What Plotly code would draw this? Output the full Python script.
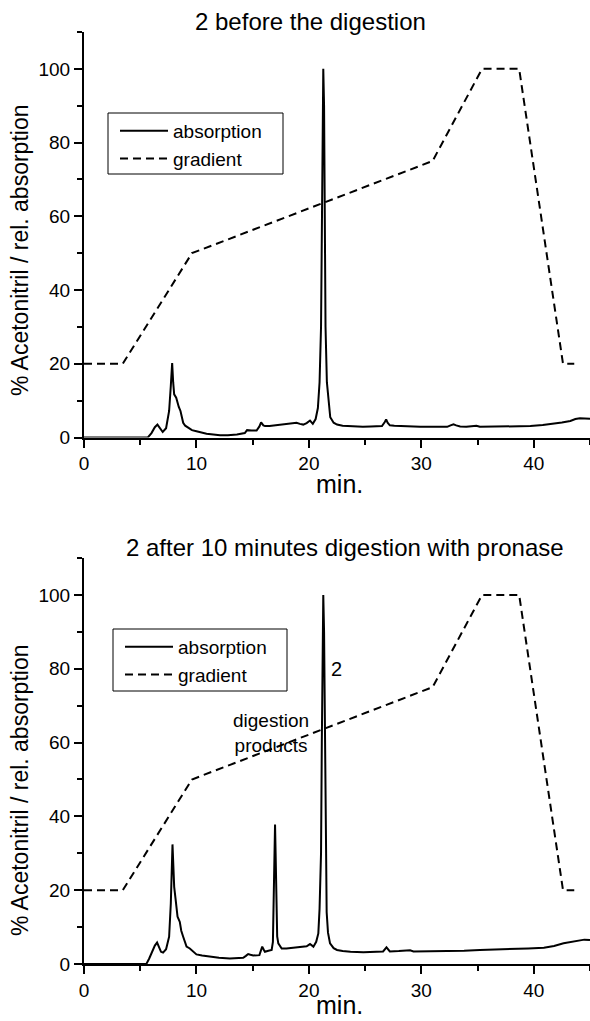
import plotly.graph_objects as go

# ---- HPLC gradient programme (% acetonitrile vs. time) ----
grad_t = [0, 3.45, 9.6, 31.0, 35.4, 38.7, 42.6, 43.6]
grad_v = [20, 20, 50, 75, 100, 100, 20, 20]

# ---- chromatogram of 2 before digestion (relative absorption) ----
before_t = [0, 5.5, 5.7, 6.0, 6.3, 6.53, 6.75, 7.0, 7.3, 7.57, 7.72, 7.84, 7.93,
            8.02, 8.2, 8.3, 8.43, 8.58, 8.7, 8.82, 9.0, 9.26, 9.6, 10.0, 10.5,
            10.9, 11.5, 12.1, 12.8, 13.6, 14.3, 14.5, 14.9, 15.35, 15.6, 15.75,
            15.95, 16.1, 16.5, 17.0, 17.5, 18.0, 18.5, 18.9, 19.2, 19.5, 19.8,
            20.1, 20.35, 20.6, 20.8, 20.95, 21.08, 21.15, 21.22, 21.28, 21.35,
            21.42, 21.48, 21.6, 21.75, 21.9, 22.2, 22.5, 23.0, 23.4, 24.0, 24.8,
            25.5, 26.5, 26.75, 26.87, 27.0, 27.2, 27.6, 28.2, 29.0, 29.9, 31.0,
            32.3, 32.6, 32.86, 33.1, 33.45, 34.0, 34.6, 34.9, 35.2, 36.4, 38.0,
            39.7, 40.8, 41.8, 42.5, 43.25, 43.7, 44.1, 44.5, 45.0]
before_v = [0, 0, 0.1, 1.2, 2.8, 3.5, 2.4, 1.5, 2.5, 7.2, 14, 20.2, 15,
            11.7, 10.8, 9.5, 8.3, 7.2, 5.5, 4.0, 3.2, 2.6, 2.0, 1.7, 1.3,
            1.0, 0.8, 0.6, 0.6, 0.8, 1.2, 2.0, 1.9, 1.9, 3.0, 4.1,
            3.3, 3.1, 3.1, 3.3, 3.3, 3.7, 3.8, 4.0, 3.7, 3.5, 3.9,
            4.6, 3.7, 5.0, 8.0, 15, 30, 60, 90, 100, 90,
            60, 30, 15, 9, 5.5, 4.0, 3.5, 3.2, 3.1, 3.0, 2.9,
            3.0, 3.1, 4.2, 4.9, 4.0, 3.3, 3.2, 3.1, 3.1, 2.9, 2.9,
            2.9, 3.3, 3.6, 3.3, 3.0, 2.9, 3.0, 3.2, 2.9, 2.9, 3.0,
            3.1, 3.4, 3.7, 4.1, 4.5, 5.0, 5.2, 5.1, 5.1]

# ---- chromatogram after 10 min pronase digestion ----
after_t = [0, 5.4, 5.56, 5.8, 6.0, 6.3, 6.5, 6.7, 6.85, 7.03, 7.3, 7.57, 7.72,
           7.87, 7.95, 8.02, 8.14, 8.32, 8.52, 8.65, 8.82, 9.0, 9.12, 9.41, 9.7,
           10.0, 10.5, 11.2, 12.0, 12.97, 13.5, 14.16, 14.4, 14.6, 14.8, 15.05,
           15.6, 15.75, 15.85, 16.0, 16.09, 16.4, 16.69, 16.8, 16.88, 16.95,
           16.99, 17.04, 17.1, 17.18, 17.28, 17.58, 18.0, 18.5, 19.0, 19.5,
           19.8, 20.1, 20.4, 20.65, 20.84, 20.95, 21.08, 21.15, 21.22, 21.28,
           21.35, 21.42, 21.48, 21.58, 21.7, 21.88, 22.2, 22.5, 23.0, 23.7,
           24.85, 26.0, 26.6, 26.9, 27.2, 28.0, 28.7, 29.0, 29.3, 30.5, 32.3,
           33.8, 35.2, 36.7, 38.2, 39.5, 40.9, 41.8, 42.65, 43.4, 44.1, 44.5,
           45.0]
after_v = [0, 0, 0.1, 1.5, 2.9, 5.0, 5.8, 4.5, 3.3, 3.1, 4.0, 7.4, 16.4,
           32.4, 26, 20.9, 17.7, 12.8, 11.4, 9.0, 7.4, 5.5, 4.7, 4.2, 3.3,
           2.6, 2.3, 2.0, 1.7, 1.5, 1.6, 1.7, 2.2, 2.7, 2.5, 2.3,
           2.4, 3.8, 4.7, 3.8, 3.3, 3.6, 3.8, 6.0, 16, 32,
           37.8, 30, 15, 7.5, 5.6, 4.2, 4.2, 4.4, 4.5, 4.7,
           4.8, 5.4, 4.7, 6.0, 8.3, 15, 30, 60, 90, 100,
           90, 60, 30, 14, 8.5, 5.6, 4.3, 3.8, 3.5, 3.3,
           3.2, 3.3, 3.4, 4.5, 3.4, 3.5, 3.5, 3.7, 3.4, 3.4, 3.5,
           3.6, 3.8, 3.9, 4.1, 4.2, 4.4, 4.9, 5.6, 6.0, 6.5, 6.6,
           6.5]

panel_titles = ["2 before the digestion",
                "2 after 10 minutes digestion with pronase"]
y_title = "% Acetonitril / rel. absorption"
x_title = "min."

FONT = "Liberation Sans, Arial, sans-serif"
DASH = "8px,5px"

fig = go.Figure()

panels = [("x", "y", "legend", before_t, before_v),
          ("x2", "y2", "legend2", after_t, after_v)]
for xa, ya, lg, t, v in panels:
    fig.add_trace(go.Scatter(x=t, y=v, mode="lines", name="absorption",
                             line=dict(color="black", width=2),
                             xaxis=xa, yaxis=ya, legend=lg))
    fig.add_trace(go.Scatter(x=grad_t, y=grad_v, mode="lines", name="gradient",
                             line=dict(color="black", width=2, dash=DASH),
                             xaxis=xa, yaxis=ya, legend=lg))

axis_common = dict(showline=True, linewidth=2, linecolor="black",
                   ticks="outside", ticklen=8, tickwidth=2, tickcolor="black",
                   showgrid=False, zeroline=False,
                   tickfont=dict(family=FONT, size=19, color="black"))

xaxis_style = dict(axis_common, range=[0, 45], tick0=0, dtick=10,
                   minor=dict(ticks="outside", ticklen=5, tickwidth=2,
                              tickcolor="black", dtick=5, tick0=0))
yaxis_style = dict(axis_common, range=[0, 110], tick0=0, dtick=20,
                   minor=dict(ticks="outside", ticklen=5, tickwidth=2,
                              tickcolor="black", dtick=10, tick0=0))

legend_style = dict(xanchor="left", yanchor="top", bgcolor="rgba(0,0,0,0)",
                    borderwidth=0, itemwidth=48,
                    font=dict(family=FONT, size=19, color="black"),
                    tracegroupgap=0)

PLOT_L, PLOT_W = 84, 506
PLOT_B, PLOT_H = 964, 932


def px_x(px):
    return (px - PLOT_L) / PLOT_W


def px_y(py):
    return (PLOT_B - py) / PLOT_H


fig.update_layout(
    width=590, height=1021, autosize=False,
    margin=dict(l=84, r=0, t=32, b=57),
    paper_bgcolor="white", plot_bgcolor="white",
    font=dict(family=FONT, color="black"),
    showlegend=True,
    xaxis=dict(xaxis_style, domain=[0, 1], anchor="y"),
    yaxis=dict(yaxis_style, domain=[px_y(437.5), 1.0], anchor="x"),
    xaxis2=dict(xaxis_style, domain=[0, 1], anchor="y2"),
    yaxis2=dict(yaxis_style, domain=[0.0, px_y(558)], anchor="x2"),
    legend=dict(legend_style, x=px_x(115), y=px_y(112)),
    legend2=dict(legend_style, x=px_x(120), y=px_y(628)),
)

# legend frames
shapes = [
    dict(type="rect", xref="paper", yref="paper",
         x0=px_x(108), x1=px_x(283), y0=px_y(174), y1=px_y(113),
         line=dict(color="black", width=1), fillcolor="white", layer="above"),
    dict(type="rect", xref="paper", yref="paper",
         x0=px_x(113), x1=px_x(287), y0=px_y(691), y1=px_y(629),
         line=dict(color="black", width=1), fillcolor="white", layer="above"),
]
fig.update_layout(shapes=shapes)

annotations = [
    # panel titles
    dict(text=panel_titles[0], xref="paper", yref="paper", x=px_x(310),
         y=px_y(22), xanchor="center", yanchor="middle", showarrow=False,
         font=dict(family=FONT, size=24)),
    dict(text=panel_titles[1], xref="paper", yref="paper", x=px_x(345),
         y=px_y(547), xanchor="center", yanchor="middle", showarrow=False,
         font=dict(family=FONT, size=24)),
    # axis captions
    dict(text=y_title, xref="paper", yref="paper", x=px_x(20), y=px_y(251),
         textangle=-90, xanchor="center", yanchor="middle", showarrow=False,
         font=dict(family=FONT, size=23)),
    dict(text=y_title, xref="paper", yref="paper", x=px_x(20), y=px_y(791),
         textangle=-90, xanchor="center", yanchor="middle", showarrow=False,
         font=dict(family=FONT, size=23)),
    dict(text=x_title, xref="paper", yref="paper", x=px_x(339), y=px_y(484),
         xanchor="center", yanchor="middle", showarrow=False,
         font=dict(family=FONT, size=25)),
    dict(text=x_title, xref="paper", yref="paper", x=px_x(339), y=px_y(1005),
         xanchor="center", yanchor="middle", showarrow=False,
         font=dict(family=FONT, size=25)),
    # peak labels in the digested sample
    dict(text="2", xref="x2", yref="y2", x=22.46, y=79.9,
         xanchor="center", yanchor="middle", showarrow=False,
         font=dict(family=FONT, size=20)),
    dict(text="digestion<br>products", xref="x2", yref="y2", x=16.65, y=62.7,
         xanchor="center", yanchor="middle", showarrow=False,
         font=dict(family=FONT, size=19)),
]
fig.update_layout(annotations=annotations)

fig.write_html("out.html")
